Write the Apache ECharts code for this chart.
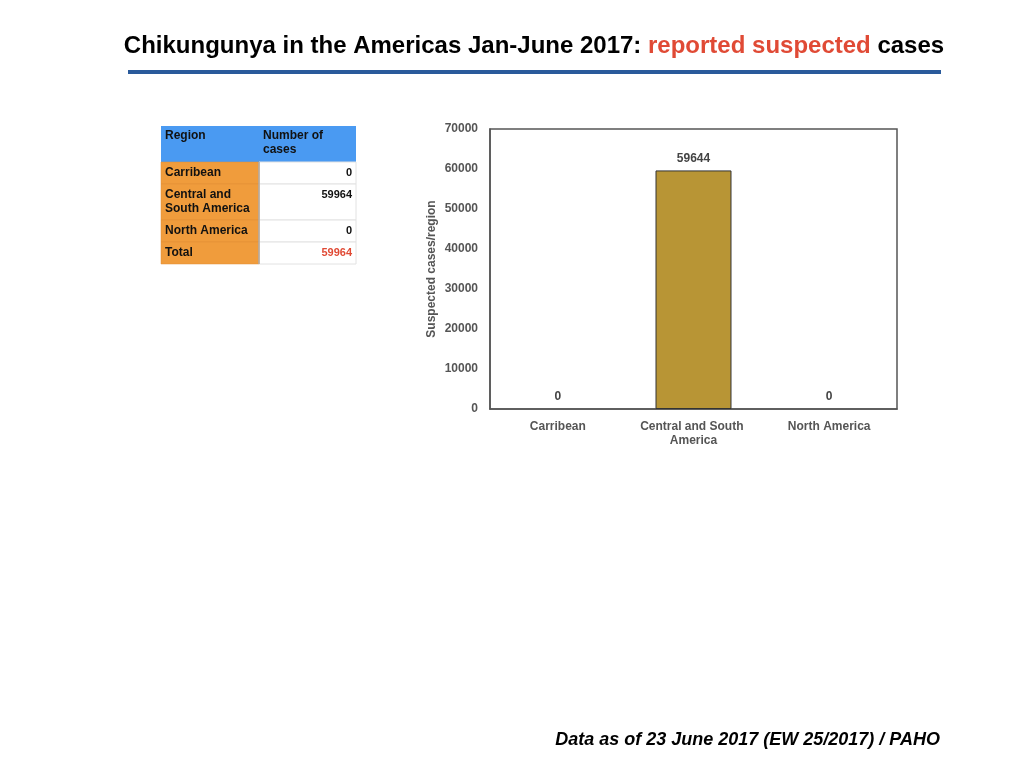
<!DOCTYPE html>
<html lang="en">

<head>
  <meta charset="UTF-8">
  <title>Chikungunya in the Americas</title>
  <style>
    html, body { margin: 0; padding: 0; background: #fff; }
    .chart { width: 1024px; height: 768px; }
  </style>
</head>

<body>
  <div class="chart"></div>
  <script src="https://cdn.jsdelivr.net/npm/echarts@6/dist/echarts.min.js"></script>
  <script>
    // chart data
    let regions = ['Carribean', 'Central and South America', 'North America'];
    let cases = [0, 59644, 0];
    let yTicks = [0, 10000, 20000, 30000, 40000, 50000, 60000, 70000];

    // table data
    let tableHead = ['Region', 'Number of\ncases'];
    let tableRegions = ['Carribean', 'Central and\nSouth America', 'North America', 'Total'];
    let tableValues = ['0', '59964', '0', '59964'];

    window.onload = function () {
      let oChart = document.querySelector('.chart');
      let myChart = echarts.init(oChart);
      let font = '"Liberation Sans", Arial, sans-serif';

      // table drawn with graphic elements
      let tx = 161, colW = [98, 97];
      let headH = 36;
      let rowH = [22, 36, 22, 22];
      let table = [];
      table.push({
        type: 'rect', shape: { x: tx, y: 126, width: colW[0] + colW[1], height: headH },
        style: { fill: '#4A9AF2' }
      });
      tableHead.forEach((t, i) => {
        table.push({
          type: 'text', x: tx + 4 + (i ? colW[0] : 0), y: 129,
          style: { text: t, font: 'bold 12px ' + font, fill: '#111', lineHeight: 14 }
        });
      });
      let y = 126 + headH;
      tableRegions.forEach((name, i) => {
        let h = rowH[i];
        table.push({
          type: 'rect', shape: { x: tx, y: y, width: colW[0], height: h },
          style: { fill: '#F09C3C', stroke: '#E08E34', lineWidth: 0.5 }
        });
        table.push({
          type: 'rect', shape: { x: tx + colW[0], y: y, width: colW[1], height: h },
          style: { fill: '#fff', stroke: '#E2E2E2', lineWidth: 1 }
        });
        table.push({
          type: 'text', x: tx + 4, y: y + 4,
          style: { text: name, font: 'bold 12px ' + font, fill: '#111', lineHeight: 14 }
        });
        table.push({
          type: 'text', x: tx + colW[0] + colW[1] - 4, y: y + 4,
          style: {
            text: tableValues[i], font: 'bold 11px ' + font, align: 'right',
            fill: i === tableRegions.length - 1 ? '#E04A35' : '#111', lineHeight: 14
          }
        });
        y += h;
      });
      table.push({
        type: 'line', shape: { x1: tx + colW[0], y1: 126 + headH, x2: tx + colW[0], y2: y },
        style: { stroke: '#B0A090', lineWidth: 1.5 }
      });

      let option = {
        animation: false,
        backgroundColor: '#fff',
        graphic: [
          {
            type: 'text', x: 534, y: 46,
            style: {
              rich: {
                b: { font: 'bold 24px ' + font, fill: '#000' },
                r: { font: 'bold 24px ' + font, fill: '#E04A35' }
              },
              text: '{b|Chikungunya in the Americas Jan-June 2017: }{r|reported suspected}{b| cases}',
              align: 'center', verticalAlign: 'middle'
            }
          },
          {
            type: 'rect', shape: { x: 128, y: 70, width: 813, height: 4 },
            style: { fill: '#2A5A9B' }
          },
          {
            type: 'text', x: 940, y: 740,
            style: {
              text: 'Data as of 23 June 2017 (EW 25/2017) / PAHO',
              font: 'italic bold 18px ' + font, fill: '#000',
              align: 'right', verticalAlign: 'middle'
            }
          }
        ].concat(table),
        grid: {
          left: 490, top: 129, right: 127, bottom: 359,
          show: true, borderColor: '#555', borderWidth: 1.5
        },
        xAxis: {
          type: 'category',
          data: regions,
          axisLine: { lineStyle: { color: '#555', width: 1.5 } },
          axisTick: { show: false },
          axisLabel: {
            interval: 0,
            color: '#555', fontWeight: 'bold', fontSize: 12, fontFamily: font,
            margin: 11, width: 120, overflow: 'break', lineHeight: 14
          }
        },
        yAxis: {
          type: 'value',
          min: yTicks[0],
          max: yTicks[yTicks.length - 1],
          interval: yTicks[1] - yTicks[0],
          name: 'Suspected cases/region',
          nameLocation: 'middle',
          nameGap: 52,
          nameTextStyle: { color: '#555', fontWeight: 'bold', fontSize: 12, fontFamily: font },
          splitLine: { show: false },
          axisLine: { show: true, lineStyle: { color: '#555', width: 1.5 } },
          axisTick: { show: false },
          axisLabel: {
            color: '#555', fontWeight: 'bold', fontSize: 12, fontFamily: font, margin: 12,
            formatter: v => String(v)
          }
        },
        series: [
          {
            type: 'bar',
            data: cases.map(v => ({ value: v, itemStyle: { borderWidth: v ? 1 : 0 } })),
            barWidth: '56%',
            itemStyle: { color: '#B89535', borderColor: '#333' },
            label: {
              show: true, position: 'top', distance: 6,
              color: '#444', fontWeight: 'bold', fontSize: 12, fontFamily: font
            }
          }
        ]
      };
      myChart.setOption(option);
    };
  </script>
</body>

</html>
